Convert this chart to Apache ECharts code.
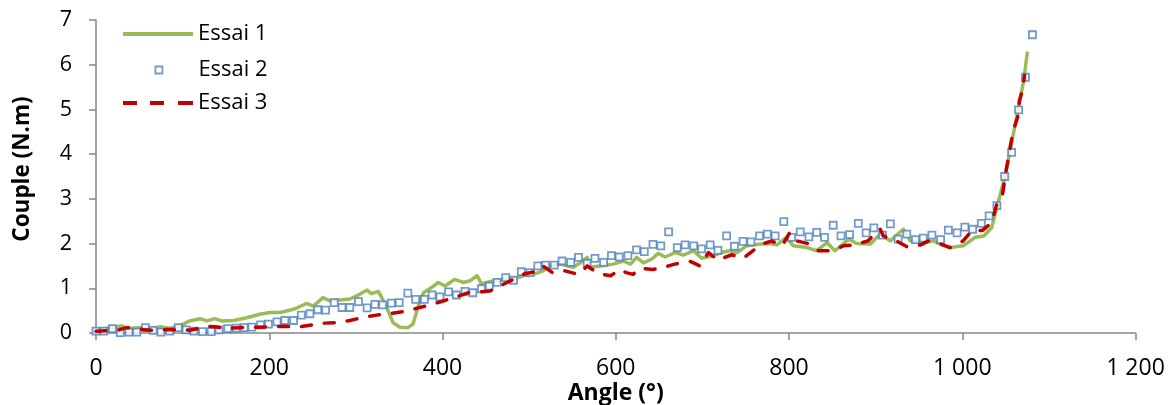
<!DOCTYPE html>
<html>
<head>
<meta charset="utf-8">
<script src="https://cdn.jsdelivr.net/npm/echarts@6/dist/echarts.min.js"></script>
<style>
html,body{margin:0;padding:0;background:#fff;}
#chart{width:1169px;height:405px;}
</style>
</head>
<body>
<div id="chart"></div>
<script>
// Essai 1 : [angle (°), couple (N.m)]
const essai1 = [
[0,0.06],[12,0.1],[30,0.16],[35,0.1],[51,0.12],[64,0.09],[74,0.14],[85,0.1],[97,0.16],
[108,0.27],[120,0.32],[128,0.27],[137,0.32],[145,0.27],[159,0.28],[174,0.34],[189,0.42],
[201,0.46],[213,0.46],[228,0.53],[243,0.66],[251,0.6],[262,0.79],[270,0.72],[282,0.74],
[293,0.76],[301,0.83],[313,0.96],[318,0.88],[326,0.93],[334,0.64],[343,0.23],[351,0.13],
[360,0.12],[366,0.2],[372,0.6],[378,0.9],[386,1.0],[395,1.13],[403,1.05],[414,1.2],
[424,1.13],[432,1.17],[440,1.28],[445,1.1],[459,1.17],[470,1.2],[482,1.2],[493,1.28],
[505,1.31],[516,1.39],[524,1.5],[536,1.54],[551,1.47],[559,1.57],[567,1.69],[570,1.47],
[582,1.5],[597,1.54],[609,1.61],[617,1.54],[624,1.69],[632,1.57],[642,1.66],[649,1.78],
[657,1.7],[669,1.8],[678,1.74],[690,1.84],[699,1.67],[711,1.72],[722,1.8],[732,1.84],
[740,1.8],[751,1.95],[767,1.99],[779,2.0],[786,1.97],[797,2.14],[805,1.95],[821,1.91],
[832,1.84],[844,2.02],[853,1.84],[869,2.1],[878,2.0],[894,1.99],[905,2.21],[917,2.06],
[932,2.32],[940,2.06],[955,2.02],[967,2.06],[979,1.95],[986,1.91],[1001,1.95],[1015,2.14],
[1025,2.17],[1034,2.36],[1040,2.81],[1050,3.56],[1059,4.45],[1065,5.05],[1071,5.65],[1075,6.26]
];

// Essai 2 : [angle (°), couple (N.m)]
const essai2 = [
[0,0.04],[9,0.04],[19,0.1],[28,0.01],[38,0.02],[47,0.02],[57,0.12],[66,0.06],[75,0.02],
[85,0.04],[95,0.12],[104,0.07],[113,0.04],[123,0.03],[133,0.03],[142,0.07],[152,0.1],
[162,0.11],[171,0.12],[180,0.13],[190,0.18],[199,0.2],[209,0.25],[218,0.28],[228,0.28],
[237,0.4],[247,0.43],[256,0.52],[265,0.51],[275,0.68],[284,0.57],[293,0.57],[303,0.7],
[313,0.56],[322,0.64],[331,0.63],[341,0.67],[350,0.68],[360,0.89],[369,0.75],[379,0.75],
[388,0.85],[397,0.81],[407,0.92],[416,0.85],[426,0.93],[435,0.9],[445,0.99],[454,1.05],
[463,1.13],[473,1.24],[482,1.18],[491,1.37],[501,1.35],[510,1.5],[519,1.52],[529,1.52],
[538,1.61],[548,1.58],[557,1.69],[567,1.56],[576,1.67],[586,1.58],[595,1.73],[604,1.7],
[614,1.73],[624,1.86],[633,1.82],[643,1.98],[652,1.95],[661,2.26],[671,1.91],[680,1.97],
[690,1.95],[699,1.88],[709,1.97],[718,1.85],[728,2.17],[737,1.94],[747,2.05],[756,2.04],
[766,2.17],[775,2.21],[784,2.17],[794,2.49],[803,2.14],[813,2.26],[823,2.15],[832,2.25],
[841,2.14],[851,2.41],[860,2.17],[870,2.2],[880,2.45],[889,2.24],[898,2.35],[908,2.19],
[917,2.44],[926,2.1],[936,2.21],[946,2.09],[955,2.12],[965,2.19],[975,2.09],[984,2.3],
[994,2.24],[1003,2.37],[1012,2.32],[1022,2.45],[1031,2.62],[1040,2.85],[1049,3.5],
[1057,4.04],[1065,4.99],[1073,5.72],[1081,6.67]
];

// Essai 3 : [angle (°), couple (N.m)]
const essai3 = [
[0,0.04],[12,0.05],[25,0.06],[35,0.12],[47,0.1],[56,0.07],[64,0.06],[79,0.07],[90,0.07],
[97,0.08],[108,0.06],[118,0.1],[126,0.15],[137,0.14],[150,0.1],[166,0.12],[185,0.13],
[201,0.14],[218,0.15],[232,0.13],[249,0.18],[262,0.22],[280,0.23],[293,0.28],[311,0.36],
[324,0.4],[341,0.44],[355,0.48],[370,0.55],[384,0.62],[398,0.7],[413,0.79],[430,0.9],
[455,0.94],[466,1.05],[485,1.23],[494,1.32],[509,1.38],[516,1.5],[527,1.35],[541,1.39],
[557,1.31],[567,1.5],[580,1.33],[594,1.28],[605,1.42],[612,1.35],[620,1.31],[628,1.45],
[643,1.42],[657,1.48],[668,1.54],[686,1.6],[697,1.5],[707,1.8],[718,1.63],[734,1.75],
[747,1.67],[759,1.85],[771,2.0],[780,2.06],[792,1.95],[801,2.25],[809,2.06],[822,2.0],
[834,1.84],[850,1.84],[863,1.95],[876,1.97],[891,2.06],[905,2.33],[909,2.17],[925,2.05],
[936,1.93],[952,1.97],[961,2.06],[975,1.99],[986,1.91],[1001,2.06],[1011,2.29],[1023,2.29],
[1034,2.47],[1040,2.89],[1046,3.03],[1050,3.56],[1056,4.23],[1059,4.53],[1064,4.83],
[1066,5.2],[1069,5.39],[1072,5.76]
];

const seriesNames = ['Essai 1', 'Essai 2', 'Essai 3'];
const xTicks = [0, 200, 400, 600, 800, 1000, 1200];
const yTicks = [0, 1, 2, 3, 4, 5, 6, 7];
const xTitle = 'Angle (°)';
const yTitle = 'Couple (N.m)';

const GREEN = '#9bbb59', BLUE = '#4f81bd', RED = '#c00000', AXIS = '#868686';
const FONT = '"Open Sans", "Noto Sans", sans-serif';

function fmt(v) {
  return String(v).replace(/\B(?=(\d{3})+(?!\d))/g, ' ');
}

const legendText = { color: '#000', fontSize: 22, fontFamily: FONT, lineHeight: 26 };

const chart = echarts.init(document.getElementById('chart'), null, { renderer: 'canvas' });
chart.setOption({
  animation: false,
  backgroundColor: '#fff',
  grid: { left: 96, right: 33.5, top: 20, bottom: 72, containLabel: false, outerBoundsMode: 'none' },
  legend: [
    { data: [{ name: seriesNames[0], icon: 'rect' }], left: 123, top: 21, padding: 0,
      itemWidth: 70, itemHeight: 4, textStyle: legendText,
      itemStyle: { color: GREEN, borderWidth: 0 }, selectedMode: false },
    { data: [{ name: seriesNames[1], icon: 'rect' }], left: 154.5, top: 57, padding: 0,
      itemWidth: 7, itemHeight: 7,
      textStyle: Object.assign({}, legendText, { padding: [0, 0, 0, 31] }),
      itemStyle: { color: '#fff', borderColor: BLUE, borderWidth: 1.8 }, selectedMode: false },
    { data: [{ name: seriesNames[2], icon: 'path://M0,0h14v4h-14zM27,0h14v4h-14zM55,0h15v4h-15z' }],
      left: 123, top: 90, padding: 0,
      itemWidth: 70, itemHeight: 4, textStyle: legendText,
      itemStyle: { color: RED, borderWidth: 0 }, selectedMode: false }
  ],
  xAxis: {
    type: 'value', min: xTicks[0], max: xTicks[xTicks.length - 1], interval: 200,
    name: xTitle, nameLocation: 'middle', nameGap: 49, nameMoveOverlap: false,
    nameTextStyle: { fontFamily: FONT, fontSize: 23, fontWeight: 'bold', color: '#000' },
    axisLine: { show: true, lineStyle: { color: AXIS, width: 1.5 } },
    axisTick: { show: true, inside: false, length: 7, lineStyle: { color: AXIS, width: 1.5 } },
    axisLabel: { fontFamily: FONT, fontSize: 23, color: '#000', margin: 24, formatter: fmt },
    splitLine: { show: false }
  },
  yAxis: {
    type: 'value', min: yTicks[0], max: yTicks[yTicks.length - 1], interval: 1,
    name: yTitle, nameLocation: 'middle', nameGap: 62, nameMoveOverlap: false,
    nameTextStyle: { fontFamily: FONT, fontSize: 22.5, fontWeight: 'bold', color: '#000', padding: [0, 0, 0, 15] },
    axisLine: { show: true, lineStyle: { color: AXIS, width: 1.5 } },
    axisTick: { show: true, inside: false, length: 7, lineStyle: { color: AXIS, width: 1.5 } },
    axisLabel: { fontFamily: FONT, fontSize: 21.5, color: '#000', margin: 24 },
    splitLine: { show: false }
  },
  series: [
    { name: seriesNames[0], type: 'line', data: essai1, showSymbol: false, symbol: 'none',
      lineStyle: { color: GREEN, width: 3.5, join: 'round', cap: 'round' },
      itemStyle: { color: GREEN }, z: 2 },
    { name: seriesNames[1], type: 'scatter', data: essai2, symbol: 'rect', symbolSize: 7,
      itemStyle: { color: '#fff', borderColor: BLUE, borderWidth: 1.8 }, z: 3 },
    { name: seriesNames[2], type: 'line', data: essai3, showSymbol: false, symbol: 'none',
      lineStyle: { color: RED, width: 3.5, type: [10, 13], cap: 'round', join: 'round' },
      itemStyle: { color: RED }, z: 4 }
  ]
});
</script>
</body>
</html>
